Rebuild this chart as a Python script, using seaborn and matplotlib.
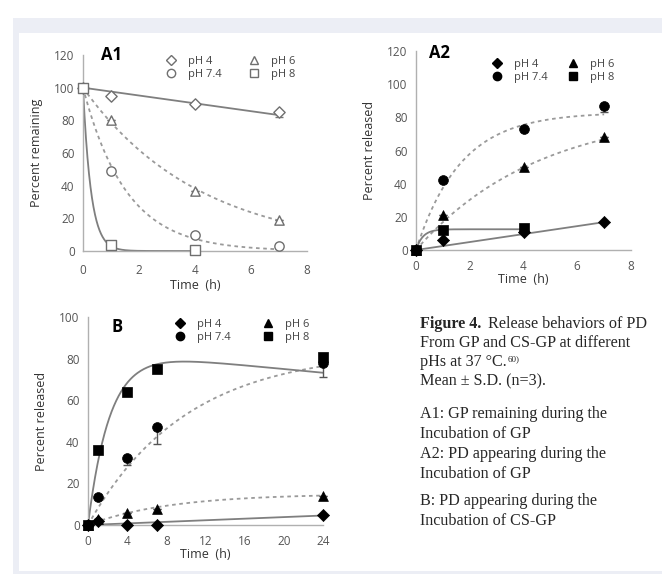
import numpy as np
import pandas as pd
import matplotlib
matplotlib.use("Agg")
import matplotlib.pyplot as plt
from matplotlib.patches import Rectangle
from matplotlib.lines import Line2D
import seaborn as sns

# ---------------- data ----------------
series_names = ["pH 4", "pH 7.4", "pH 6", "pH 8"]
markers = {"pH 4": "D", "pH 6": "^", "pH 7.4": "o", "pH 8": "s"}

# A1: GP remaining
a1_t = {"pH 4": [0, 1, 4, 7], "pH 6": [0, 1, 4, 7], "pH 7.4": [0, 1, 4, 7], "pH 8": [0, 1, 4]}
a1_y = {"pH 4": [100, 95, 90, 85], "pH 6": [100, 80, 37, 19],
        "pH 7.4": [100, 49, 10, 3], "pH 8": [100, 3.5, 0.5]}
a1_err = {"pH 4": [0, 0, 1, 3], "pH 6": [0, 0, 0, 0], "pH 7.4": [0, 0, 0, 0], "pH 8": [0, 0, 0]}

# A2: PD released from GP
a2_t = {"pH 4": [0, 1, 4, 7], "pH 6": [0, 1, 4, 7], "pH 7.4": [0, 1, 4, 7], "pH 8": [0, 1, 4]}
a2_y = {"pH 4": [0, 6, 11, 17], "pH 6": [0, 21, 50, 68],
        "pH 7.4": [0, 42, 73, 87], "pH 8": [0, 12, 13]}
a2_err = {"pH 4": [0, 0, 0, 0], "pH 6": [0, 0, 0, 0], "pH 7.4": [0, 0, 0, 4], "pH 8": [0, 0, 0]}

# B: PD released from CS-GP
b_t = [0, 1, 4, 7, 24]
b_y = {"pH 4": [0, 2, 0, 0, 5], "pH 6": [0, 3, 6, 7.5, 14],
       "pH 7.4": [0, 13.5, 32, 47, 78], "pH 8": [0, 36, 64, 75, 81]}
b_err = {"pH 4": [0, 0, 0, 0, 0], "pH 6": [0, 0, 0, 0, 0],
         "pH 7.4": [0, 0, 3, 8, 0], "pH 8": [0, 0, 0, 0, 10]}

# trend-line parameters
a1_fit = {"pH 4": ("lin", 100, -2.4, 7), "pH 6": ("decay", 100, 0.24, 7),
          "pH 7.4": ("decay", 100, 0.65, 7), "pH 8": ("decay", 100, 3.5, 4)}
a2_fit = {"pH 4": ("lin", 0, 2.4, 7), "pH 6": ("rise", 85, 0.22, 7),
          "pH 7.4": ("rise", 83, 0.6, 7), "pH 8": ("rise", 12.5, 4.0, 4)}
b_fit = {"pH 4": ("lin", 0, 0.19, 24), "pH 6": ("rise", 15, 0.12, 24),
         "pH 7.4": ("rise", 84, 0.1, 24), "pH 8": ("risedrift", 84, 0.45, 24, 0.45)}
line_style = {"pH 4": "solid", "pH 8": "solid", "pH 6": "dotted", "pH 7.4": "dotted"}


def trend(spec):
    kind = spec[0]
    t = np.linspace(0, spec[3], 300)
    if kind == "lin":
        y = spec[1] + spec[2] * t
    elif kind == "decay":
        y = spec[1] * np.exp(-spec[2] * t)
    elif kind == "rise":
        y = spec[1] * (1 - np.exp(-spec[2] * t))
    else:
        y = spec[1] * (1 - np.exp(-spec[2] * t)) - spec[4] * t
    return pd.DataFrame({"t": t, "y": y})


# ---------------- figure ----------------
W, H = 662, 574
fig = plt.figure(figsize=(W / 100, H / 100), dpi=100)
sns.set_style("white")
plt.rcParams["font.family"] = ["Open Sans", "DejaVu Sans"]

fig.patches.append(Rectangle((13 / W, 0), 1, 1 - 18 / H, transform=fig.transFigure,
                             facecolor="#eceef5", edgecolor="none", zorder=-10))
fig.patches.append(Rectangle((19 / W, 3 / H), 1, 1 - 33 / H - 3 / H, transform=fig.transFigure,
                             facecolor="white", edgecolor="none", zorder=-9))


def px_axes(l, r, b, t):
    return fig.add_axes([l / W, 1 - b / H, (r - l) / W, (b - t) / H])


def style_axes(ax, xmax, xticks, ymax, yticks, xpad, lpad):
    ax.set_facecolor("none")
    ax.set_xlim(0, xmax)
    ax.set_ylim(0, ymax)
    ax.set_xticks(xticks)
    ax.set_yticks(yticks)
    for s in ["top", "right"]:
        ax.spines[s].set_visible(False)
    for s in ["left", "bottom"]:
        ax.spines[s].set_color("#b0b0b0")
        ax.spines[s].set_linewidth(1.0)
    ax.tick_params(axis="both", length=3, width=0.8, color="#b0b0b0",
                   labelsize=8.5, labelcolor="#555555", pad=3)
    ax.tick_params(axis="x", pad=xpad)
    ax.set_xlabel("Time  (h)", fontsize=9, color="#333333", labelpad=lpad)


def draw_panel(ax, tdict, ydict, edict, fits, filled):
    for name in ["pH 4", "pH 6", "pH 7.4", "pH 8"]:
        df = trend(fits[name])
        ls = "-" if line_style[name] == "solid" else (0, (2, 2))
        sns.lineplot(data=df, x="t", y="y", ax=ax, color="#7f7f7f" if ls == "-" else "#9a9a9a",
                     linewidth=1.3, linestyle=ls, zorder=2)
    for name in ["pH 4", "pH 6", "pH 7.4", "pH 8"]:
        t = tdict[name] if isinstance(tdict, dict) else tdict
        y = ydict[name]
        e = edict[name]
        ecol = "#555555" if filled else "#777777"
        ax.errorbar(t, y, yerr=[e, [0] * len(e)], fmt="none", ecolor=ecol,
                    elinewidth=1, capsize=3, capthick=1, zorder=3, clip_on=False)
        d = pd.DataFrame({"t": t, "y": y})
        ms = 40 if name != "pH 4" else 28
        if filled:
            sns.scatterplot(data=d, x="t", y="y", ax=ax, marker=markers[name], s=ms + 10,
                            color="black", edgecolor="black", linewidth=0.5, zorder=4, clip_on=False)
        else:
            sns.scatterplot(data=d, x="t", y="y", ax=ax, marker=markers[name], s=ms + 5,
                            facecolor="white", edgecolor="#6f6f6f", linewidth=1.0, zorder=4, clip_on=False)
    handles = []
    for name in series_names:
        ms = 6 if name != "pH 4" else 5
        if filled:
            h = Line2D([], [], linestyle="none", marker=markers[name], markersize=ms,
                       markerfacecolor="black", markeredgecolor="black")
        else:
            h = Line2D([], [], linestyle="none", marker=markers[name], markersize=ms,
                       markerfacecolor="white", markeredgecolor="#6f6f6f")
        handles.append(h)
    return handles


leg_kw = dict(ncol=2, frameon=False, fontsize=8, loc="upper left", handletextpad=0.5,
              labelspacing=0.2, labelcolor="#444444", borderaxespad=0, borderpad=0)

# A1
ax1 = px_axes(83, 307, 251, 55)
h1 = draw_panel(ax1, a1_t, a1_y, a1_err, a1_fit, filled=False)
style_axes(ax1, 8, [0, 2, 4, 6, 8], 120, [0, 20, 40, 60, 80, 100, 120], 6, 2)
ax1.set_ylabel("Percent remaining", fontsize=9, color="#333333", labelpad=8)
ax1.legend(h1, series_names, bbox_to_anchor=(0.345, 0.995), columnspacing=1.9, **leg_kw)
ax1.text(0.08, 1.0, "A1", transform=ax1.transAxes, fontsize=12, fontweight="bold",
         ha="left", va="center", color="black")

# A2
ax2 = px_axes(416, 631, 250, 51)
h2 = draw_panel(ax2, a2_t, a2_y, a2_err, a2_fit, filled=True)
style_axes(ax2, 8, [0, 2, 4, 6, 8], 120, [0, 20, 40, 60, 80, 100, 120], 4, 0)
ax2.set_ylabel("Percent released", fontsize=9, color="#333333", labelpad=8)
ax2.legend(h2, series_names, bbox_to_anchor=(0.325, 0.96), columnspacing=1.3, **leg_kw)
ax2.text(0.06, 0.99, "A2", transform=ax2.transAxes, fontsize=12, fontweight="bold",
         ha="left", va="center", color="black")

# B
ax3 = px_axes(88, 323, 525, 317)
h3 = draw_panel(ax3, b_t, b_y, b_err, b_fit, filled=True)
style_axes(ax3, 24, [0, 4, 8, 12, 16, 20, 24], 100, [0, 20, 40, 60, 80, 100], 4, 0)
ax3.set_ylabel("Percent released", fontsize=9, color="#333333", labelpad=8)
ax3.legend(h3, series_names, bbox_to_anchor=(0.345, 0.99), columnspacing=2.4, **leg_kw)
ax3.text(0.1, 0.95, "B", transform=ax3.transAxes, fontsize=12, fontweight="bold",
         ha="left", va="center", color="black")

# caption
serif = ["Liberation Serif", "DejaVu Serif"]
cx = 420 / W
def fy(py):
    return 1 - py / H
fs = 11.6
fig.text(cx, fy(328), "Figure 4.", fontsize=fs, fontweight="bold", family=serif, va="baseline")
fig.text(488 / W, fy(328), "Release behaviors of PD", fontsize=fs, family=serif, va="baseline")
fig.text(cx, fy(347), "From GP and CS-GP at different", fontsize=fs, family=serif, va="baseline")
t37 = fig.text(cx, fy(366), "pHs at 37 \u00b0C.", fontsize=fs, family=serif, va="baseline")
fig.canvas.draw()
bb = t37.get_window_extent()
fig.text(bb.x1 / W + 1 / W, fy(361), "60)", fontsize=6.5, family=serif, va="baseline")
fig.text(cx, fy(385), "Mean \u00b1 S.D. (n=3).", fontsize=fs, family=serif, va="baseline")
fig.text(cx, fy(418), "A1: GP remaining during the", fontsize=fs, family=serif, va="baseline")
fig.text(cx, fy(438), "Incubation of GP", fontsize=fs, family=serif, va="baseline")
fig.text(cx, fy(458), "A2: PD appearing during the", fontsize=fs, family=serif, va="baseline")
fig.text(cx, fy(478), "Incubation of GP", fontsize=fs, family=serif, va="baseline")
fig.text(cx, fy(505), "B: PD appearing during the", fontsize=fs, family=serif, va="baseline")
fig.text(cx, fy(525), "Incubation of CS-GP", fontsize=fs, family=serif, va="baseline")

fig.savefig("out.png", dpi=100)
